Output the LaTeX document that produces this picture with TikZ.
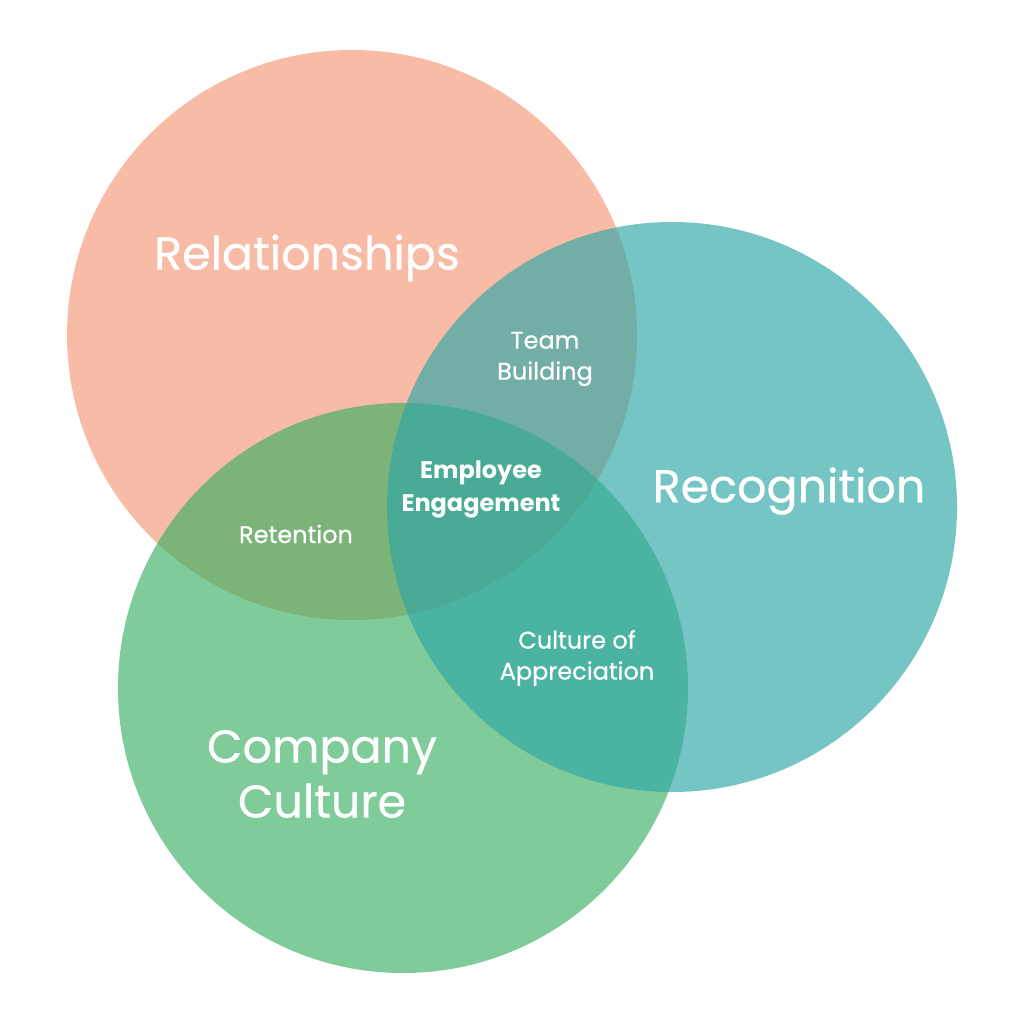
\documentclass[tikz,border=0pt]{standalone}
\usepackage{fontspec}
\setmainfont{Poppins}
\newfontfamily\medfont{Poppins}[FakeBold=0.6]
\definecolor{relcol}{RGB}{248,188,166}
\definecolor{culcol}{RGB}{55,174,97}
\definecolor{reccol}{RGB}{47,167,166}
\begin{document}
\begin{tikzpicture}[x=1pt,y=-1pt,
        bigtext/.style={text=white,align=center,font=\medfont\fontsize{46}{55}\selectfont},
        smalltext/.style={text=white,align=center,font=\medfont\fontsize{24}{31}\selectfont}]
        \useasboundingbox (0,0) rectangle (1024,1024);
        \fill[white] (0,0) rectangle (1024,1024);
        \fill[relcol] (352,335) circle[radius=285pt];
        \fill[culcol,fill opacity=0.64] (403,688) circle[radius=285pt];
        \fill[reccol,fill opacity=0.66] (672,507) circle[radius=285pt];

        \node[bigtext] (rel) at (307,258) {Relationships};
        \node[bigtext] (rec) at (789,491) {Recognition};
        \node[bigtext] (cul) at (322,774) {Company\\Culture};

        \node[smalltext] (team) at (545,359) {Team\\Building};
        \node[smalltext] (ret) at (296,534) {Retention};
        \node[smalltext] (app) at (577,658) {Culture of\\Appreciation};
        \node[smalltext,font=\fontsize{24}{33}\selectfont\bfseries] (eng) at (481,489) {Employee\\Engagement};
    \end{tikzpicture}
\end{document}
